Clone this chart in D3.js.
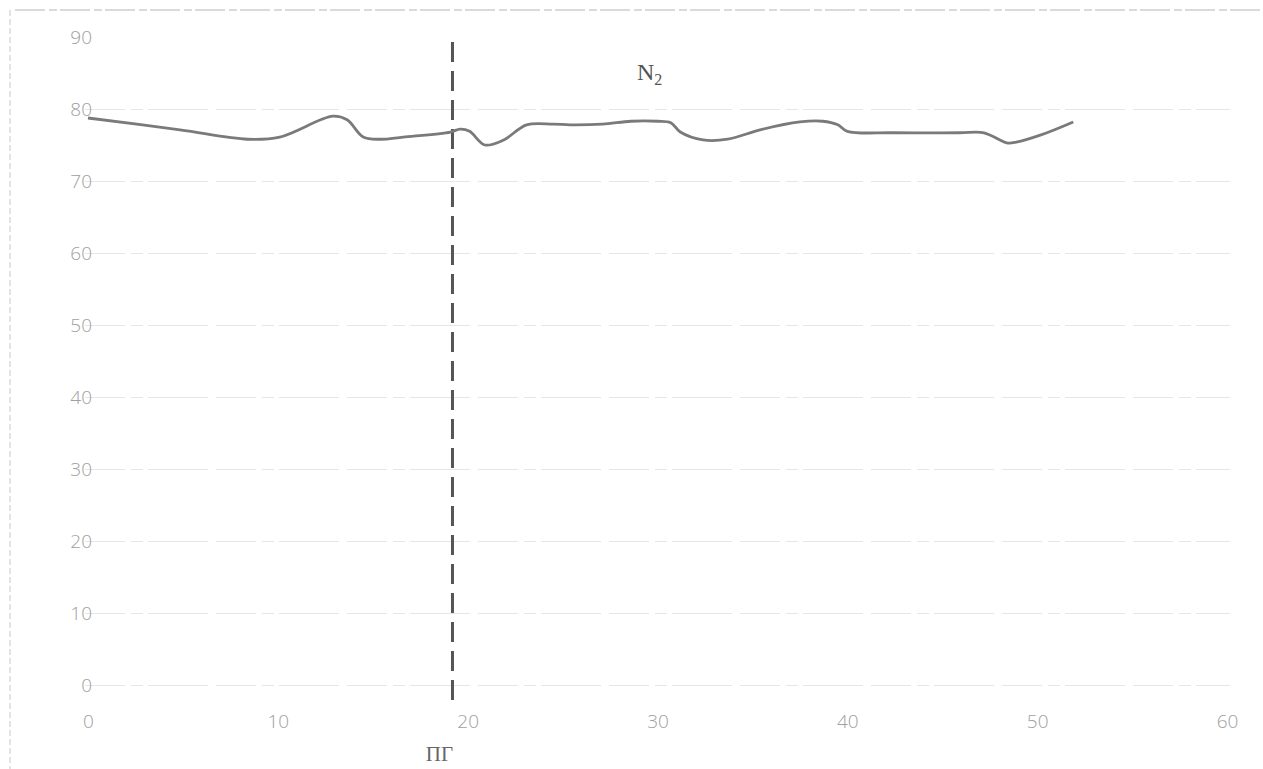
<!DOCTYPE html>
<html>
<head>
<meta charset="utf-8">
<script src="https://cdn.jsdelivr.net/npm/d3@7"></script>
<style>
  html, body { margin: 0; padding: 0; background: #fff; }
  svg { display: block; }
</style>
</head>
<body>
<svg id="chart" width="1263" height="769"></svg>
<script>
// ---- data ----
const xTicks = [0, 10, 20, 30, 40, 50, 60];
const yTicks = [0, 10, 20, 30, 40, 50, 60, 70, 80, 90];
const timeValues = [0, 4.85, 8.4, 10.1, 12.9, 13.65, 14.5, 15.4, 16.6, 19.1, 19.6, 20.1, 20.9, 21.9, 23.1, 24.5, 25.4, 27.1, 28.6, 30.0, 30.7, 31.2, 32.4, 33.7, 35.4, 37.5, 38.7, 39.5, 40.0, 42.4, 45.9, 47.2, 48.4, 48.9, 50.2, 51.9];
const n2Values = [78.75, 77.1, 75.8, 76.1, 79.0, 78.5, 76.1, 75.8, 76.1, 76.8, 77.2, 76.9, 75.0, 75.7, 77.8, 77.9, 77.8, 77.9, 78.3, 78.3, 78.1, 76.8, 75.7, 75.8, 77.1, 78.2, 78.3, 77.8, 76.9, 76.7, 76.7, 76.7, 75.3, 75.4, 76.4, 78.2];
const markerX = 19.2;
const markerLabel = "ПГ";
const seriesLabel = "N";
const seriesSub = "2";

// ---- layout ----
const svg = d3.select("#chart");
const x = d3.scaleLinear().domain([0, 60]).range([88, 1227]);
const y = d3.scaleLinear().domain([0, 90]).range([685, 37]);

// frame (scan border)
svg.append("line").attr("x1", 15).attr("x2", 1263).attr("y1", 10).attr("y2", 10)
  .attr("stroke", "#b5b5b5").attr("stroke-width", 1).attr("stroke-dasharray", "30,4,8,3");
svg.append("line").attr("x1", 10).attr("x2", 10).attr("y1", 10).attr("y2", 769)
  .attr("stroke", "#c8c8c8").attr("stroke-width", 1).attr("stroke-dasharray", "6,3");

// gridlines
svg.append("g")
  .selectAll("line")
  .data(yTicks.filter(d => d !== 90))
  .join("line")
  .attr("x1", 85).attr("x2", 1230)
  .attr("y1", d => y(d) + 0.5).attr("y2", d => y(d) + 0.5)
  .attr("stroke", "#e6e6e6").attr("stroke-width", 1.2)
  .attr("stroke-dasharray", "40,6,12,5,60,8");

// y axis
const yAxis = svg.append("g")
  .attr("transform", "translate(92,0)")
  .call(d3.axisLeft(y).tickValues(yTicks).tickSize(0).tickPadding(0));
yAxis.select(".domain").remove();
yAxis.selectAll("text")
  .attr("fill", "#a0a0a0")
  .attr("font-family", "'Open Sans', 'DejaVu Sans', sans-serif")
  .attr("font-size", 19)
  .attr("font-weight", 300);

// x axis
const xAxis = svg.append("g")
  .attr("transform", "translate(0,714)")
  .call(d3.axisBottom(x).tickValues(xTicks).tickSize(0).tickPadding(0));
xAxis.select(".domain").remove();
xAxis.selectAll("text")
  .attr("fill", "#a0a0a0")
  .attr("font-family", "'Open Sans', 'DejaVu Sans', sans-serif")
  .attr("font-size", 19)
  .attr("font-weight", 300);

// marker dashed line
svg.append("line")
  .attr("x1", x(markerX)).attr("x2", x(markerX))
  .attr("y1", 42).attr("y2", 706)
  .attr("stroke", "#555").attr("stroke-width", 3)
  .attr("stroke-dasharray", "20,9");

svg.append("text")
  .attr("x", x(markerX) - 13).attr("y", 761)
  .attr("text-anchor", "middle")
  .attr("fill", "#666")
  .attr("font-family", "'Liberation Serif', 'DejaVu Serif', serif")
  .attr("font-size", 21)
  .text(markerLabel);

// series line
const pts = timeValues.map((t, i) => [t, n2Values[i]]);
const line = d3.line().x(d => x(d[0])).y(d => y(d[1])).curve(d3.curveCatmullRom.alpha(0.5));
svg.append("path")
  .datum(pts)
  .attr("d", line)
  .attr("fill", "none")
  .attr("stroke", "#7a7a7a")
  .attr("stroke-width", 2.8)
  .attr("stroke-linejoin", "round");

// series label
const lbl = svg.append("text")
  .attr("x", 637).attr("y", 80)
  .attr("fill", "#555")
  .attr("font-family", "'Liberation Serif', 'DejaVu Serif', serif")
  .attr("font-size", 24);
lbl.append("tspan").text(seriesLabel);
lbl.append("tspan").attr("font-size", 16).attr("dy", 5).text(seriesSub);
</script>
</body>
</html>
